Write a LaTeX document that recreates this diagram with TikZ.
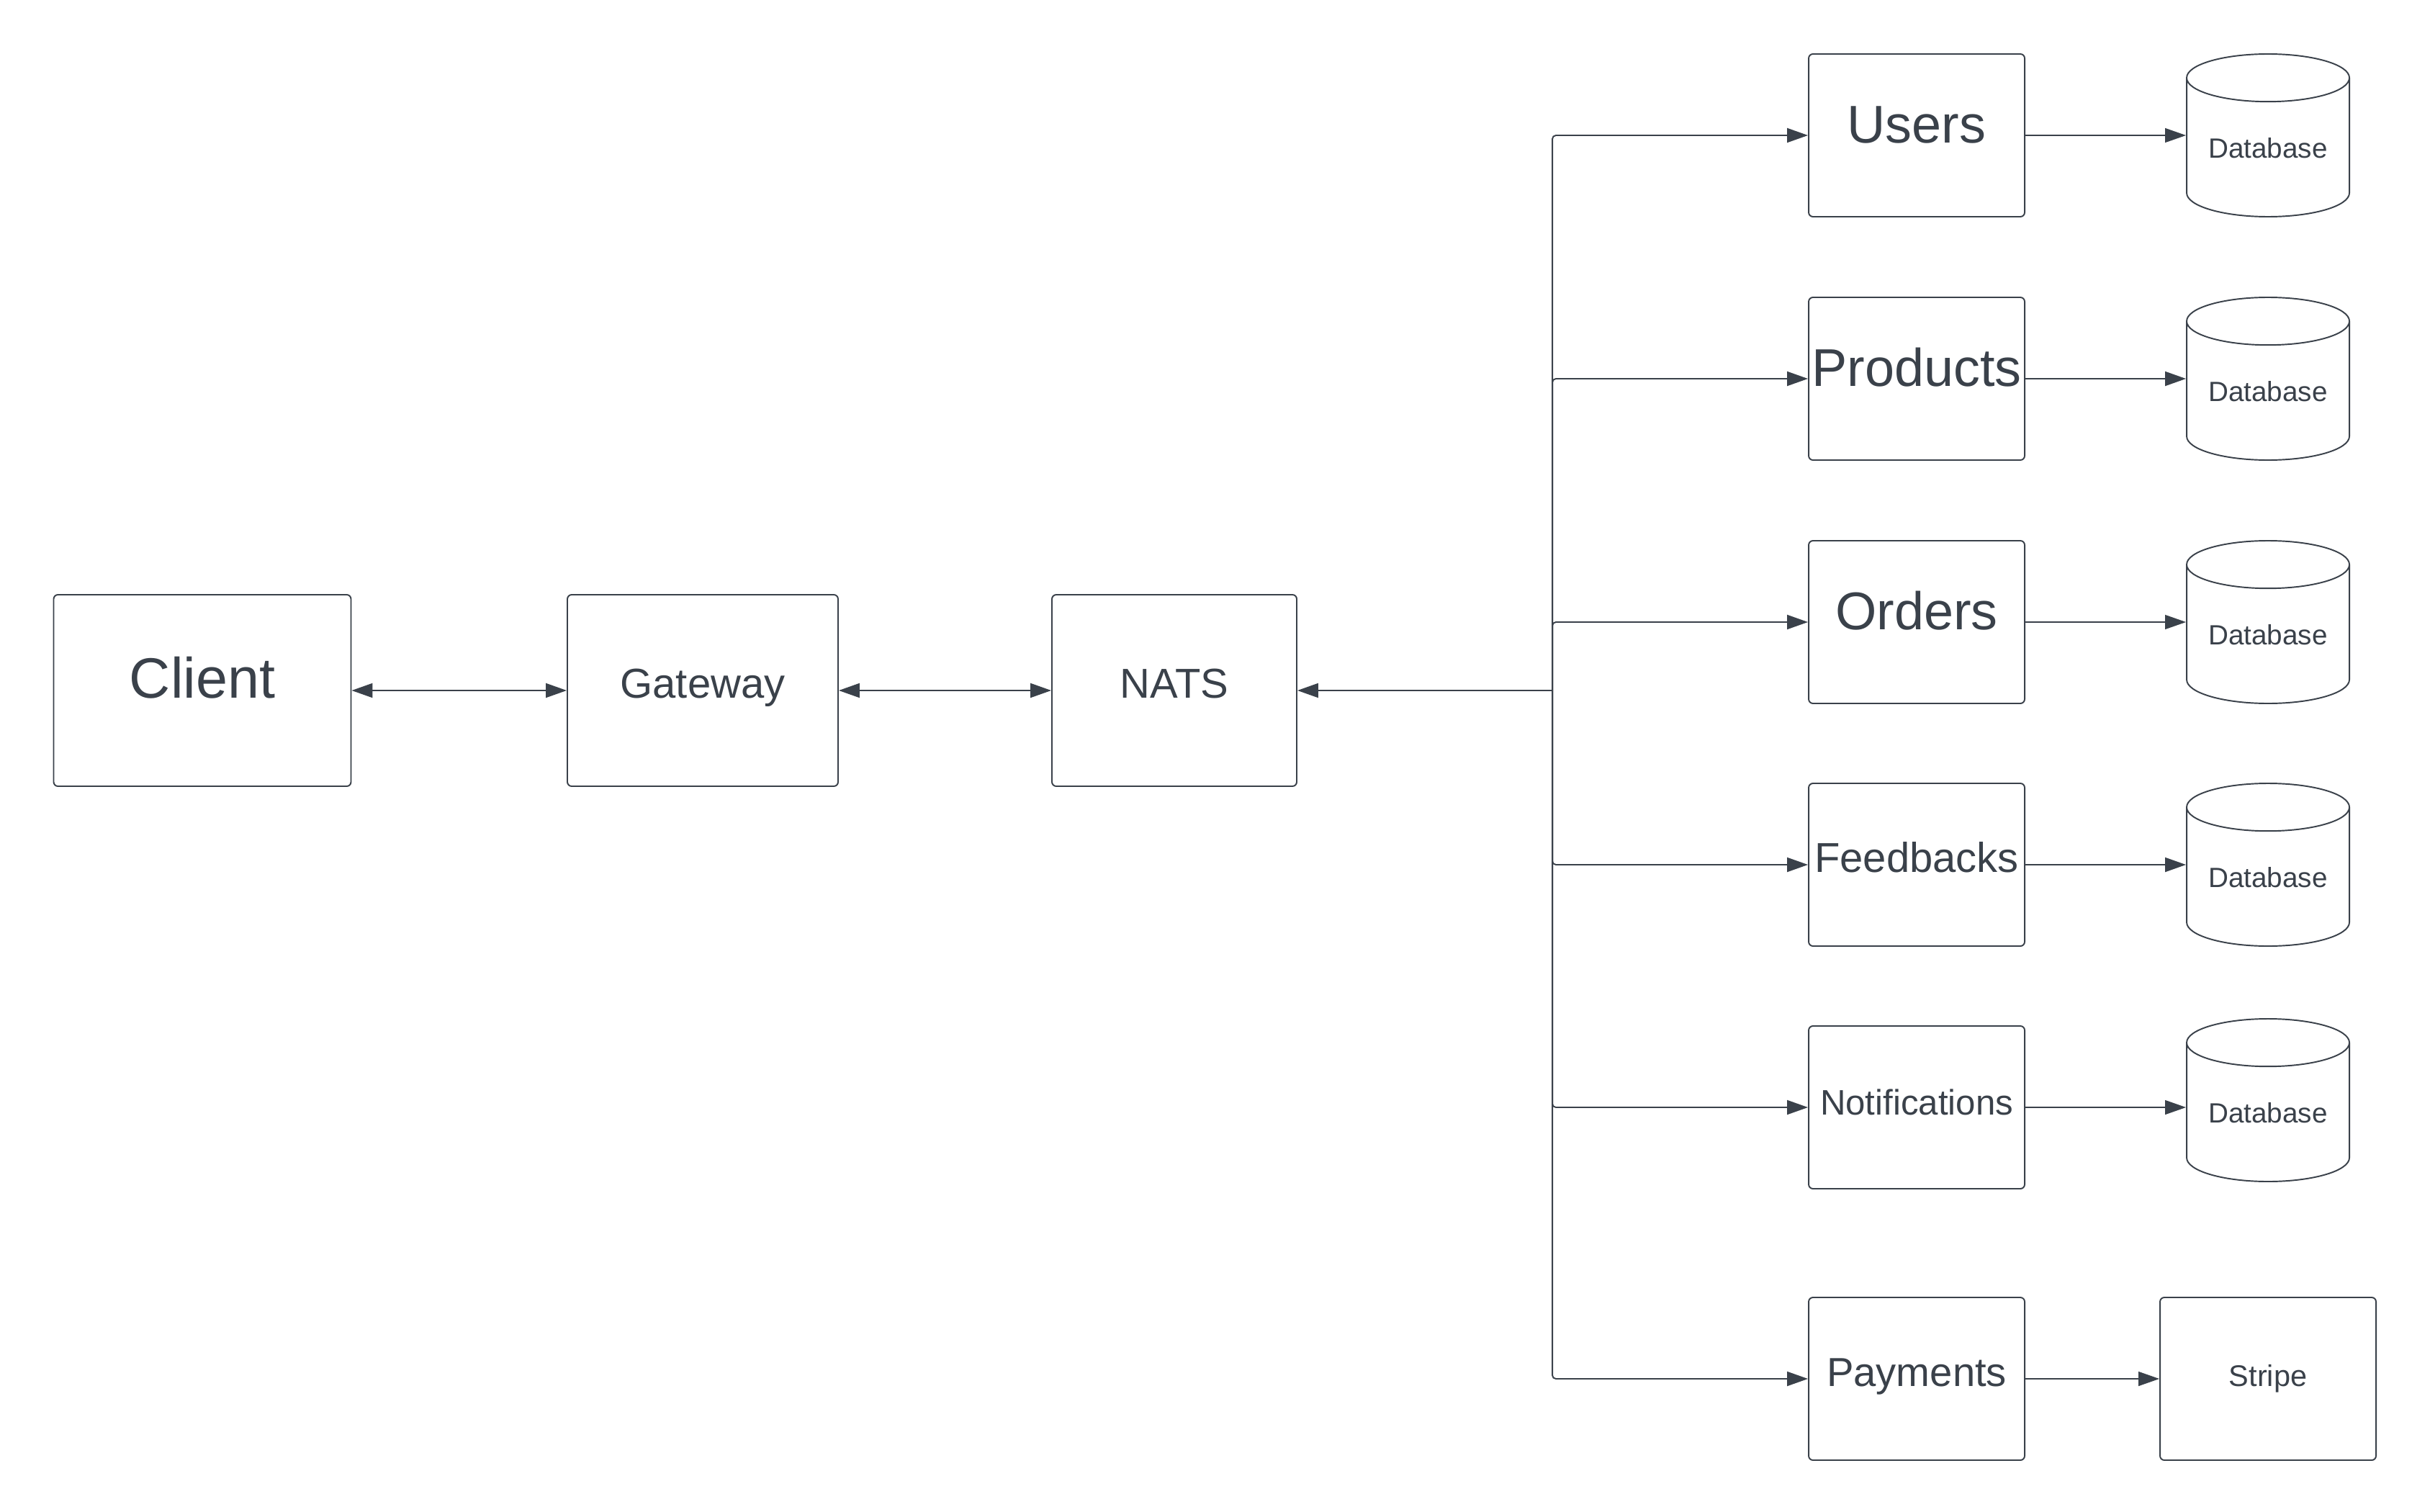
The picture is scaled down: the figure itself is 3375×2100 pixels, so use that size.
\documentclass[tikz,border=0pt]{standalone}
\usepackage{fontspec}
\setmainfont{Liberation Sans}
\usetikzlibrary{arrows.meta,shapes.geometric}
\definecolor{ink}{RGB}{58,65,74}
\begin{document}
\begin{tikzpicture}[x=0.1mm,y=-0.1mm,>={Triangle[length=2.9mm,width=2mm]}]
\tikzstyle{box} = [draw=ink, text=ink, rounded corners=0.6mm, line width=0.55pt, inner sep=0pt, text height=0.7em, text depth=0.08em]
\tikzstyle{svc} = [box, minimum width=30mm, minimum height=22.6mm]
\tikzstyle{db} = [cylinder, shape border rotate=90, aspect=0.4, anchor=shape center, draw=ink, text=ink, line width=0.55pt, minimum width=22.6mm, minimum height=22.6mm, inner sep=0pt, text height=1.05em, text depth=0.24em, font=\fontsize{11}{13}\selectfont]
\tikzstyle{link} = [draw=ink, line width=0.55pt, ->]
\tikzstyle{thinlink} = [link, line width=0.35pt]
\useasboundingbox (0,0) rectangle (3375,2100);
% front
\node[box, minimum width=41.3mm, minimum height=26.6mm, font=\fontsize{22.5}{26}\selectfont] (client) at (281,959) {Client};
\node[box, minimum width=37.6mm, minimum height=26.6mm, font=\fontsize{16.5}{19}\selectfont] (gateway) at (976,959) {Gateway};
\node[box, minimum width=34mm, minimum height=26.6mm, font=\fontsize{16.5}{19}\selectfont] (nats) at (1631,959) {NATS};
\coordinate (hub) at (2156,959);
% services
\node[svc, font=\fontsize{21}{24}\selectfont] (users) at (2662,188) {Users};
\node[svc, font=\fontsize{21}{24}\selectfont] (products) at (2662,526) {Products};
\node[svc, font=\fontsize{21}{24}\selectfont] (orders) at (2662,864) {Orders};
\node[svc, font=\fontsize{16.5}{19}\selectfont] (feedbacks) at (2662,1201) {Feedbacks};
\node[svc, font=\fontsize{14}{17}\selectfont] (notes) at (2662,1538) {Notifications};
\node[svc, font=\fontsize{16}{19}\selectfont] (payments) at (2662,1915) {Payments};
% storage
\node[db] (usersdb) at (3150,188) {Database};
\node[db] (productsdb) at (3150,526) {Database};
\node[db] (ordersdb) at (3150,864) {Database};
\node[db] (feedbacksdb) at (3150,1201) {Database};
\node[db] (notesdb) at (3150,1528) {Database};
\node[box, minimum width=30mm, minimum height=22.6mm, font=\fontsize{11.8}{14}\selectfont] (stripe) at (3150,1915) {Stripe};
% links
\draw[link, <->] (client) -- (gateway);
\draw[link, <->] (gateway) -- (nats);
\draw[link, rounded corners=0.5mm] (hub) -- (nats.east);
\foreach \s in {users,products,orders,feedbacks,notes,payments}
  \draw[link, rounded corners=0.5mm] (hub) |- (\s.west);
\draw[thinlink] (users.east) -- (users.east -| usersdb.west);
\draw[link] (products.east) -- (products.east -| productsdb.west);
\draw[thinlink] (orders.east) -- (orders.east -| ordersdb.west);
\draw[link] (feedbacks.east) -- (feedbacks.east -| feedbacksdb.west);
\draw[thinlink] (notes.east) -- (notes.east -| notesdb.west);
\draw[thinlink] (payments) -- (stripe);
\end{tikzpicture}
\end{document}
